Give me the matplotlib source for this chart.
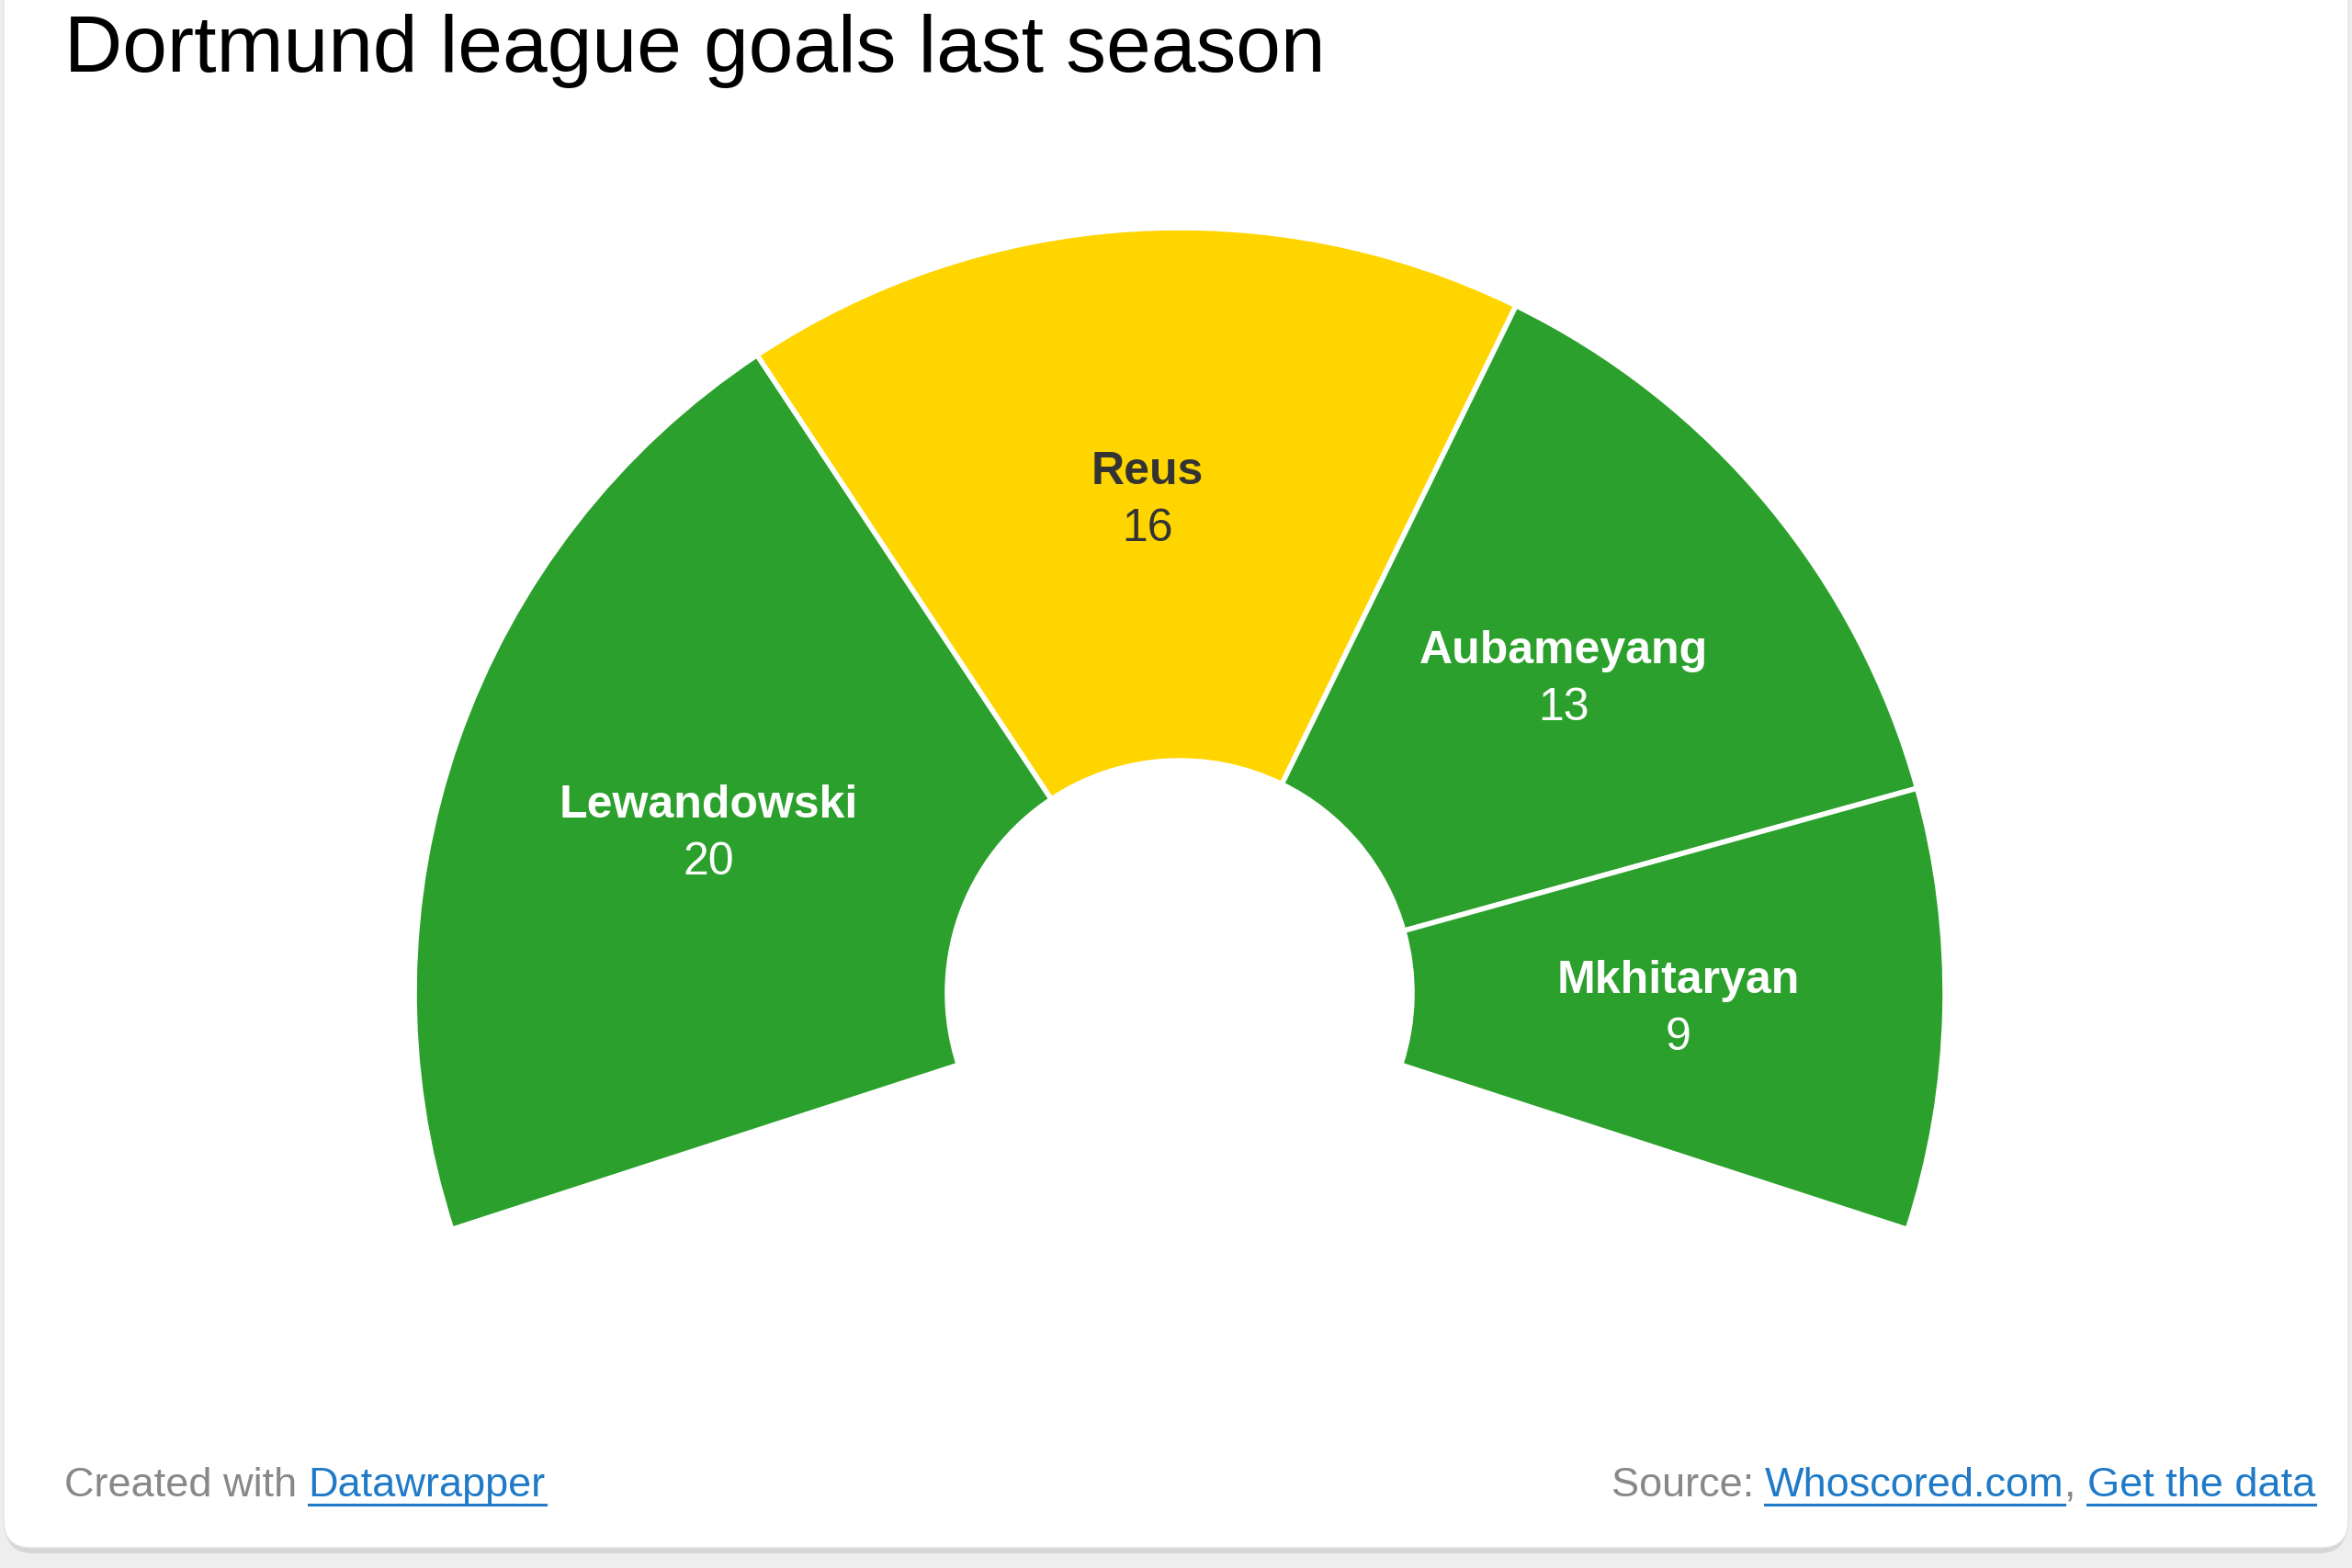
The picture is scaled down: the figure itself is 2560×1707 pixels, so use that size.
import matplotlib.pyplot as plt
from matplotlib.patches import FancyBboxPatch
from matplotlib.lines import Line2D
import numpy as np

# data
players = ["Lewandowski", "Reus", "Aubameyang", "Mkhitaryan"]
goals = [20, 16, 13, 9]
colors = ["#2ca02c", "#ffd500", "#2ca02c", "#2ca02c"]
text_colors = ["white", "#333333", "white", "white"]

# the arc covers 216 of 360 degrees, the rest is a hidden slice
arc = 216.0
total = sum(goals)
gap = total * (360 - arc) / arc

W, H = 2560, 1708
fig = plt.figure(figsize=(W / 100, H / 100), dpi=100, facecolor="#eeeeee")
ax = fig.add_axes([0, 0, 1, 1])

# card with a soft shadow
ax.add_patch(FancyBboxPatch((6, 16), W - 12, H + 40, boxstyle="round,pad=0,rounding_size=30",
                            facecolor="#d6d6d6", edgecolor="none", zorder=0))
ax.add_patch(FancyBboxPatch((4, 22), W - 8, H + 40, boxstyle="round,pad=0,rounding_size=30",
                            facecolor="white", edgecolor="#e2e2e2", linewidth=1, zorder=0))

cx, cy = 1284, 626
r_out, r_in = 833, 253
wedges, _ = ax.pie(goals + [gap], radius=r_out, center=(cx, cy), startangle=198,
                   counterclock=False, colors=colors + ["none"],
                   wedgeprops=dict(width=r_out - r_in, edgecolor="white", linewidth=4),
                   frame=True)
wedges[-1].set_edgecolor("none")
ax.set_xlim(0, W)
ax.set_ylim(0, H)
ax.set_aspect("equal")
ax.axis("off")

# labels at the middle of each segment
r_mid = (r_out + r_in) / 2
for w, name, val, tc in zip(wedges, players, goals, text_colors):
    mid = np.deg2rad((w.theta1 + w.theta2) / 2)
    x = cx + r_mid * np.cos(mid)
    y = cy + r_mid * np.sin(mid) - 5
    ax.text(x, y + 31, name, ha="center", va="center", fontsize=36,
            fontweight="bold", color=tc, family="Liberation Sans")
    ax.text(x, y - 31, str(val), ha="center", va="center", fontsize=36,
            color=tc, family="Liberation Sans")

ax.text(70, 1630, "Dortmund league goals last season", ha="left", va="baseline",
        fontsize=63, color="black", family="Liberation Sans")

# footer with underlined links
grey = "#888888"
blue = "#1f7ac8"
fs = 32.5
fig.canvas.draw()
renderer = fig.canvas.get_renderer()
inv = ax.transData.inverted()


def put_pieces(x0, y0, pieces):
    x = x0
    for txt, col, link in pieces:
        t = ax.text(x, y0, txt, ha="left", va="baseline", fontsize=fs, color=col,
                    family="Liberation Sans")
        bb = t.get_window_extent(renderer)
        (x1, _), (x2, _) = inv.transform([(bb.x0, bb.y0), (bb.x1, bb.y0)])
        if link:
            ax.add_line(Line2D([x1, x2], [y0 - 10, y0 - 10], color=blue, linewidth=2.2))
        x = x2
    return x


def width_of(pieces):
    total_w = 0
    for txt, col, link in pieces:
        t = ax.text(0, 0, txt, fontsize=fs, family="Liberation Sans")
        bb = t.get_window_extent(renderer)
        total_w += bb.width
        t.remove()
    return total_w


base_y = 79
put_pieces(70, base_y, [("Created with ", grey, False), ("Datawrapper", blue, True)])
right = [("Source: ", grey, False), ("Whoscored.com", blue, True), (", ", grey, False),
         ("Get the data", blue, True)]
put_pieces(2520 - width_of(right), base_y, right)

plt.savefig("out.png", dpi=100, facecolor=fig.get_facecolor())
